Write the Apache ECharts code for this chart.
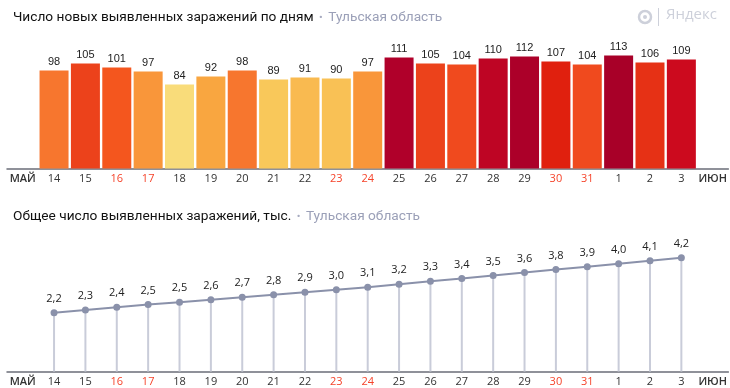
<!DOCTYPE html>
<html><head><meta charset="utf-8">
<script src="https://cdn.jsdelivr.net/npm/echarts@6/dist/echarts.min.js"></script>
<style>html,body{margin:0;padding:0;background:#fff}#c{width:730px;height:388px}</style>
</head><body><div id="c"></div>
<script>
const categories = ['МАЙ','14','15','16','17','18','19','20','21','22','23','24','25','26','27','28','29','30','31','1','2','3','ИЮН'];
const weekendLabels = ['16','17','23','24','30','31'];
const monthLabels = ['МАЙ','ИЮН'];
const dailyCases = [null,98,105,101,97,84,92,98,89,91,90,97,111,105,104,110,112,107,104,113,106,109,null];
const totalThousands = [null,2.160,2.265,2.366,2.463,2.547,2.639,2.737,2.826,2.917,3.007,3.104,3.215,3.320,3.424,3.534,3.646,3.753,3.857,3.970,4.076,4.185,null];
const title1 = 'Число новых выявленных заражений по дням';
const title2 = 'Общее число выявленных заражений, тыс.';
const region = 'Тульская область';

const stops = [[84,'#F9DC7A'],[89,'#F9C85A'],[91,'#F9BA50'],[92,'#F9A640'],[97,'#F9963A'],[98,'#F7762E'],[101,'#F4561E'],[104,'#F04A1E'],[105,'#EC421B'],[107,'#E0200E'],[109,'#CC0A1E'],[111,'#B0002A'],[113,'#A80028']];
function hex(c){return [1,3,5].map(i=>parseInt(c.substr(i,2),16));}
function colorFor(v){
  if(v<=stops[0][0]) return stops[0][1];
  for(let i=1;i<stops.length;i++){
    if(v<=stops[i][0]){
      const [a,ca]=stops[i-1],[b,cb]=stops[i];
      const t=(v-a)/(b-a), x=hex(ca), y=hex(cb);
      return 'rgb('+x.map((q,k)=>Math.round(q+(y[k]-q)*t)).join(',')+')';
    }
  }
  return stops[stops.length-1][1];
}
const font = '"Open Sans", sans-serif';
const axisLabel = {
  interval:0, margin:5, fontSize:11, fontFamily:font,
  formatter: v => monthLabels.includes(v) ? '{m|'+v+'}' : (weekendLabels.includes(v) ? '{r|'+v+'}' : '{n|'+v+'}'),
  rich:{
    m:{fontSize:11,fontFamily:font,fontWeight:600,color:'#333'},
    r:{fontSize:11,fontFamily:font,color:'#F5432A'},
    n:{fontSize:11,fontFamily:font,color:'#333'}
  }
};
const xAxisBase = (gi) => ({
  type:'category', gridIndex:gi, data:categories, boundaryGap:true,
  axisLine:{lineStyle:{color:'#6B6E78',width:1.5}}, axisTick:{show:false}, axisLabel
});
const tfont = 'Roboto, "Open Sans", sans-serif';
const titleRich = (t) => ({
  text:'{a|'+t+'}{d|  •  }{b|'+region+'}', left:8,
  textStyle:{fontWeight:'normal',rich:{
    a:{fontSize:13.7,fontFamily:tfont,fontWeight:'normal',color:'#111'},
    d:{fontSize:11,fontFamily:tfont,fontWeight:'normal',color:'#A7ABC0'},
    b:{fontSize:13.7,fontFamily:tfont,fontWeight:'normal',color:'#9BA0B8'}
  }}
});
const chart = echarts.init(document.getElementById('c'));
chart.setOption({
  animation:false,
  title:[Object.assign(titleRich(title1),{top:6}), Object.assign(titleRich(title2),{top:205})],
  grid:[{left:7,right:0,top:48.5,bottom:219.5},{left:7,right:0,top:235.7,bottom:16.5}],
  xAxis:[xAxisBase(0), xAxisBase(1)],
  yAxis:[{type:'value',gridIndex:0,min:0,max:120,show:false,splitLine:{show:false}},
         {type:'value',gridIndex:1,min:0,max:5,show:false,splitLine:{show:false}}],
  series:[
    {type:'bar',xAxisIndex:0,yAxisIndex:0,data:dailyCases,barWidth:29,
     itemStyle:{color:p=>colorFor(p.value)},
     label:{show:true,position:'top',distance:3,fontSize:11,fontFamily:'"Liberation Sans", Arial, sans-serif',color:'#222'}},
    {type:'bar',xAxisIndex:1,yAxisIndex:1,data:totalThousands,barWidth:2,z:1,
     itemStyle:{color:'#C9CCD9'}},
    {type:'line',xAxisIndex:1,yAxisIndex:1,data:totalThousands,z:3,
     symbol:'circle',symbolSize:7,showAllSymbol:true,
     lineStyle:{color:'#8A91AA',width:2},itemStyle:{color:'#8A91AA'},
     label:{show:true,position:'top',distance:5,fontSize:11,fontFamily:font,color:'#222',
       formatter:p=>p.value.toFixed(1).replace('.',',')}}
  ],
  graphic:[
    {type:'circle',shape:{cx:645,cy:17,r:6},style:{fill:'none',stroke:'#CDD0DA',lineWidth:2.5}},
    {type:'circle',shape:{cx:645,cy:17,r:2},style:{fill:'#CDD0DA'}},
    {type:'rect',shape:{x:658,y:8,width:1,height:18},style:{fill:'#CDD0DA'}},
    {type:'text',left:666,top:7,style:{text:'Яндекс',font:'15px "Liberation Sans Narrow", "Open Sans", sans-serif',fill:'#CDD0DA'}}
  ]
});
</script></body></html>
